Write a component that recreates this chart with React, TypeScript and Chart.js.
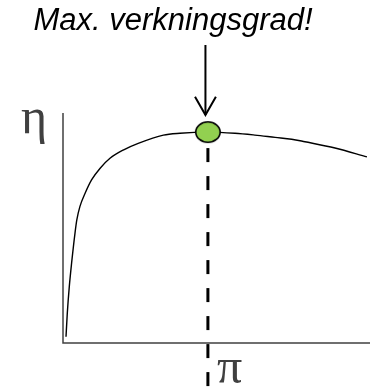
import React, { useEffect, useRef } from "react";
import { Chart, registerables } from "chart.js";

Chart.register(...registerables);

// Efficiency curve (arbitrary units: x = pressure ratio π, y = efficiency η)
const curveX = [0.98, 1.4, 2.05, 2.8, 3.9, 4.5, 5.5, 7.2, 9.3, 12.1, 15.3, 19.6, 24.5, 32.7, 38.1, 47.2, 56.0, 62.5, 69.1, 74.5, 78.8, 88.6, 99.0];
const curveY = [2.7, 13.0, 24.5, 34.7, 47.7, 53.5, 59.3, 65.1, 70.9, 76.0, 80.3, 83.9, 86.8, 90.4, 91.2, 91.7, 91.2, 90.4, 89.4, 88.6, 87.5, 84.8, 80.9];

// Maximum point
const peakX = [47.2];
const peakY = [91.7];

// Dashed drop line from the maximum down past the axis
const dropY = [91.7, -19.6];

// Arrow pointing at the maximum
const arrowX = [46.4];
const arrowShaftY = [129.6, 99.1];
const arrowHeadDX = [-3.4, 0, 3.4];
const arrowHeadY = [107.1, 99.1, 107.1];

const titleText = "Max. verkningsgrad!";
const yLabel = "η";
const xLabel = "π";

function makeEllipse(): HTMLCanvasElement {
  const c = document.createElement("canvas");
  c.width = 28;
  c.height = 24;
  const g = c.getContext("2d")!;
  g.beginPath();
  g.ellipse(14, 12, 12.2, 10.2, 0, 0, Math.PI * 2);
  g.fillStyle = "#92D050";
  g.fill();
  g.lineWidth = 1.6;
  g.strokeStyle = "#000";
  g.stroke();
  return c;
}

export default function App() {
  const ref = useRef<HTMLCanvasElement>(null);

  useEffect(() => {
    document.body.style.margin = "0";
    const canvas = ref.current!;
    const marker = makeEllipse();

    const axesAndText = {
      id: "axesAndText",
      beforeDatasetsDraw(chart: any) {
        const ctx = chart.ctx;
        const xs = chart.scales.x;
        const ys = chart.scales.y;
        const x0 = xs.getPixelForValue(0);
        const x1 = xs.getPixelForValue(100);
        const y0 = ys.getPixelForValue(0);
        const y1 = ys.getPixelForValue(100);
        ctx.save();
        ctx.strokeStyle = "#404040";
        ctx.lineWidth = 1.5;
        ctx.beginPath();
        ctx.moveTo(x0, y1);
        ctx.lineTo(x0, y0);
        ctx.lineTo(x1, y0);
        ctx.stroke();
        ctx.restore();
      },
      afterDraw(chart: any) {
        const ctx = chart.ctx;
        ctx.save();
        ctx.fillStyle = "#000";
        ctx.font = 'italic 31px "Liberation Sans", Arial, sans-serif';
        ctx.textAlign = "center";
        ctx.textBaseline = "alphabetic";
        ctx.fillText(titleText, 173, 30);
        ctx.fillStyle = "#404040";
        ctx.font = '50px "Liberation Serif", "DejaVu Serif", serif';
        ctx.textAlign = "left";
        ctx.fillText(yLabel, 21, 133);
        ctx.fillText(xLabel, 217, 383);
        ctx.restore();
      },
    };

    const chart = new Chart(canvas, {
      type: "line",
      data: {
        datasets: [
          {
            label: "max",
            data: peakX.map((x, i) => ({ x, y: peakY[i] })),
            pointStyle: marker as any,
            pointRadius: 12,
            showLine: false,
            clip: false as any,
          },
          {
            label: "drop",
            data: dropY.map((y) => ({ x: peakX[0], y })),
            borderColor: "#000",
            borderWidth: 3,
            borderDash: [14, 14],
            borderDashOffset: 12,
            pointRadius: 0,
            clip: false as any,
          },
          {
            label: "arrowShaft",
            data: arrowShaftY.map((y) => ({ x: arrowX[0], y })),
            borderColor: "#000",
            borderWidth: 2,
            pointRadius: 0,
            clip: false as any,
          },
          {
            label: "arrowHead",
            data: arrowHeadY.map((y, i) => ({ x: arrowX[0] + arrowHeadDX[i], y })),
            borderColor: "#000",
            borderWidth: 2,
            pointRadius: 0,
            clip: false as any,
          },
          {
            label: "efficiency",
            data: curveX.map((x, i) => ({ x, y: curveY[i] })),
            borderColor: "#000",
            borderWidth: 1.4,
            pointRadius: 0,
            cubicInterpolationMode: "monotone",
            clip: false as any,
          },
        ],
      },
      options: {
        animation: false,
        responsive: false,
        devicePixelRatio: 1,
        layout: { autoPadding: false, padding: { left: 63, top: 113, right: 0, bottom: 45 } },
        plugins: { legend: { display: false }, tooltip: { enabled: false }, title: { display: false } },
        events: [],
        scales: {
          x: { type: "linear", min: 0, max: 100, display: false },
          y: { type: "linear", min: 0, max: 100, display: false },
        },
      },
      plugins: [axesAndText],
    });
    return () => chart.destroy();
  }, []);

  return (
    <div style={{ position: "absolute", left: 0, top: 0, width: 370, height: 388, background: "#fff" }}>
      <canvas ref={ref} width={370} height={388} style={{ display: "block" }} />
    </div>
  );
}
